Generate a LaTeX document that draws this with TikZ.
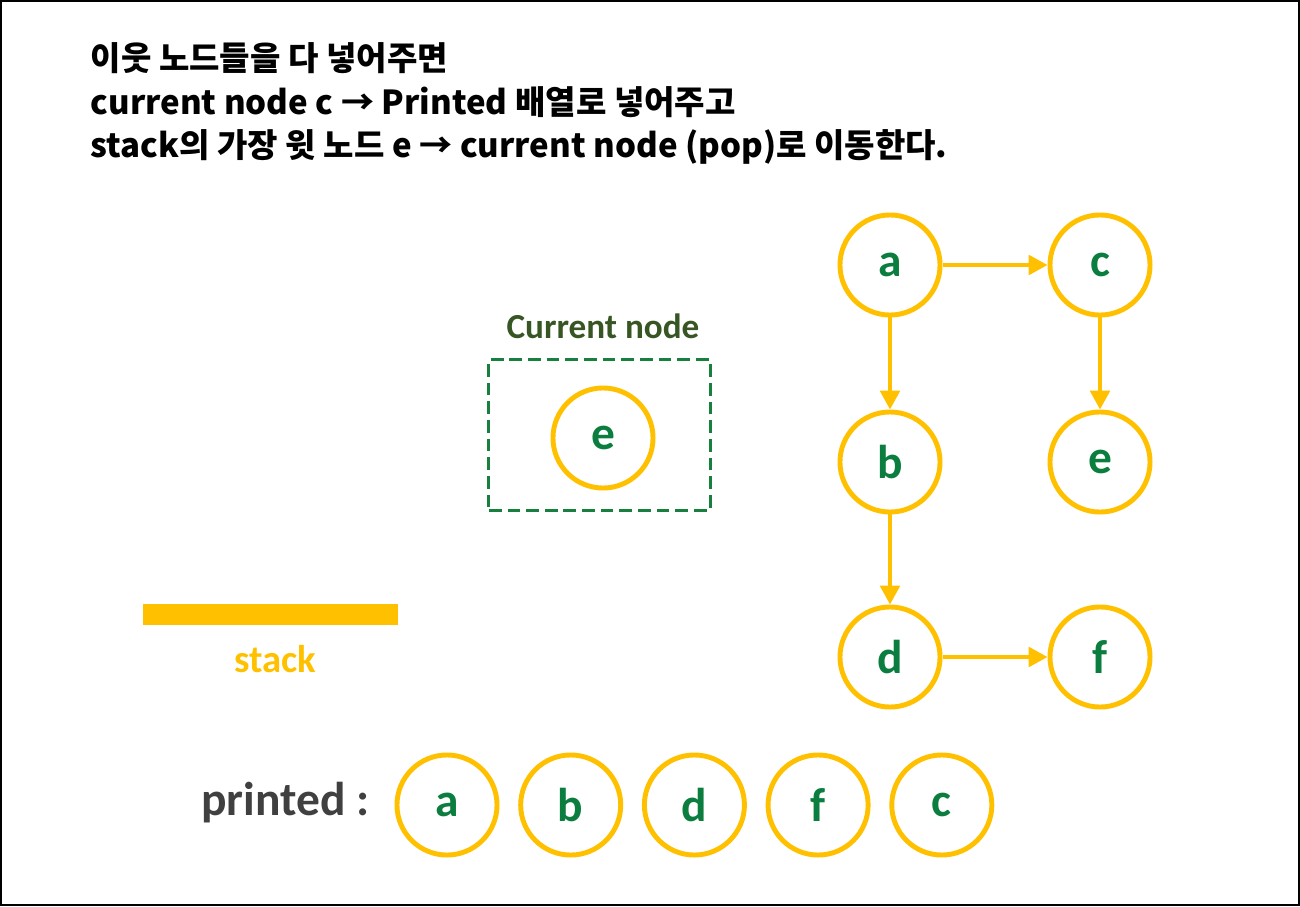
\documentclass[tikz,border=0pt]{standalone}
\usepackage{fontspec}
\setmainfont{Carlito}
\newfontfamily\krfont{Noto Sans CJK KR}
\usetikzlibrary{arrows.meta}

\definecolor{nodeyellow}{HTML}{FFC000}
\definecolor{lettergreen}{HTML}{0B7D3E}
\definecolor{boxgreen}{HTML}{17803F}
\definecolor{labelgreen}{HTML}{375623}
\definecolor{textgray}{HTML}{404040}

\begin{document}
\begin{tikzpicture}[x=0.01cm,y=-0.01cm,
    vertex/.style={circle,draw=nodeyellow,line width=1.4pt,minimum size=1cm,inner sep=0pt,
        text=lettergreen,font=\bfseries\fontsize{13.5}{15}\selectfont},
    edge/.style={draw=nodeyellow,line width=1.1pt,-{Triangle[length=5.4pt,width=5.6pt]}},
    intro/.style={anchor=base west,inner sep=0pt,font=\krfont\bfseries\fontsize{9.4}{11}\selectfont}]

    % Frame
    \useasboundingbox (0,0) rectangle (1300,906);
    \draw[line width=0.7pt] (1,1) rectangle (1299,905);

    % Explanation
    \node[intro] (line1) at (90,70) {이웃 노드들을 다 넣어주면};
    \node[intro] (line2) at (90,114) {current node c → Printed 배열로 넣어주고};
    \node[intro] (line3) at (90,157) {stack의 가장 윗 노드 e → current node (pop)로 이동한다.};

    % Current node
    \node[text=labelgreen,font=\bfseries\fontsize{10}{12}\selectfont] (curlabel) at (603,326) {Current node};
    \node[draw=boxgreen,line width=0.85pt,dash pattern=on 3.6pt off 1.7pt,
        minimum width=2.21cm,minimum height=1.5cm] (curbox) at (599.5,435) {};
    \node[vertex] (cur) at (603,438) {e};

    % Stack
    \fill[nodeyellow] (143,604) rectangle (398,625);
    \node[text=nodeyellow,font=\bfseries\fontsize{11}{13}\selectfont] (stacklabel) at (275,659) {stack};

    % Graph
    \node[vertex] (a) at (890,265) {a};
    \node[vertex] (c) at (1100,265) {c};
    \node[vertex] (b) at (890,462) {b};
    \node[vertex] (e) at (1100,462) {e};
    \node[vertex] (d) at (890,657) {d};
    \node[vertex] (f) at (1100,657) {f};

    \draw[edge] (a) -- (c);
    \draw[edge] (a) -- (b);
    \draw[edge] (c) -- (e);
    \draw[edge] (b) -- (d);
    \draw[edge] (d) -- (f);

    % Printed
    \node[anchor=east,inner sep=0pt,text=textgray,font=\bfseries\fontsize{13.5}{15}\selectfont] (printed) at (370,803) {printed :};
    \foreach \lbl [count=\i] in {a,b,d,f,c}
        \node[vertex] (p\i) at ({447+123.7*(\i-1)},805) {\lbl};

\end{tikzpicture}
\end{document}
